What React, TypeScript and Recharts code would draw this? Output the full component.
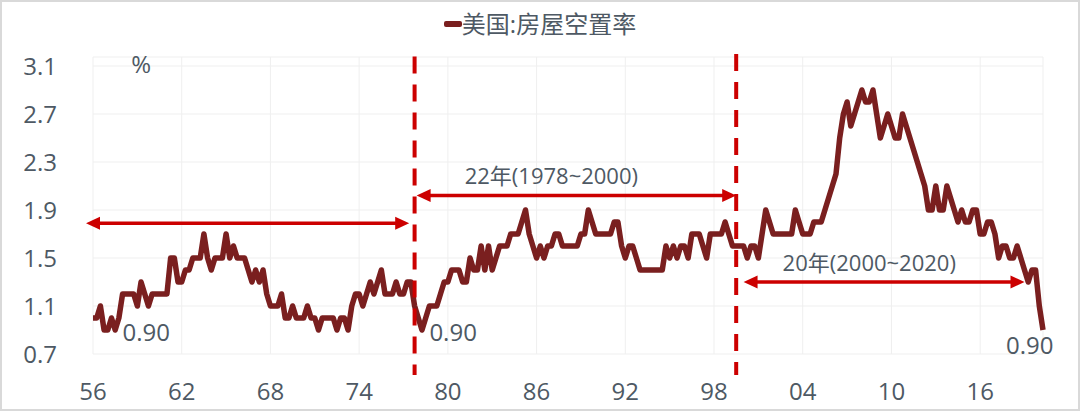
import {
  LineChart,
  Line,
  XAxis,
  YAxis,
  CartesianGrid,
  Legend,
  ReferenceLine,
  ReferenceDot,
} from 'recharts'

// US homeowner vacancy rate, quarterly, 1956Q1 - 2020Q2 (%)
const startYear = 1956
const vacancyRate = [
  1.0, 1.0, 1.1, 0.9, // 1956
  0.9, 1.0, 0.9, 1.0, // 1957
  1.2, 1.2, 1.2, 1.2, // 1958
  1.1, 1.3, 1.2, 1.1, // 1959
  1.2, 1.2, 1.2, 1.2, // 1960
  1.2, 1.5, 1.5, 1.3, // 1961
  1.3, 1.4, 1.4, 1.5, // 1962
  1.5, 1.5, 1.7, 1.5, // 1963
  1.4, 1.5, 1.5, 1.5, // 1964
  1.7, 1.5, 1.6, 1.5, // 1965
  1.5, 1.5, 1.4, 1.3, // 1966
  1.4, 1.3, 1.4, 1.2, // 1967
  1.1, 1.1, 1.1, 1.2, // 1968
  1.0, 1.0, 1.1, 1.0, // 1969
  1.0, 1.0, 1.1, 1.0, // 1970
  1.0, 0.9, 1.0, 1.0, // 1971
  1.0, 1.0, 0.9, 1.0, // 1972
  1.0, 0.9, 1.1, 1.2, // 1973
  1.2, 1.1, 1.2, 1.3, // 1974
  1.2, 1.3, 1.4, 1.2, // 1975
  1.2, 1.2, 1.3, 1.2, // 1976
  1.2, 1.3, 1.3, 1.1, // 1977
  1.0, 0.9, 1.0, 1.1, // 1978
  1.1, 1.1, 1.2, 1.3, // 1979
  1.3, 1.4, 1.4, 1.4, // 1980
  1.3, 1.3, 1.5, 1.4, // 1981
  1.4, 1.6, 1.4, 1.6, // 1982
  1.4, 1.5, 1.6, 1.6, // 1983
  1.6, 1.7, 1.7, 1.7, // 1984
  1.8, 1.9, 1.7, 1.6, // 1985
  1.5, 1.6, 1.5, 1.6, // 1986
  1.6, 1.7, 1.7, 1.6, // 1987
  1.6, 1.6, 1.6, 1.6, // 1988
  1.7, 1.7, 1.9, 1.8, // 1989
  1.7, 1.7, 1.7, 1.7, // 1990
  1.7, 1.8, 1.8, 1.6, // 1991
  1.5, 1.6, 1.6, 1.5, // 1992
  1.4, 1.4, 1.4, 1.4, // 1993
  1.4, 1.4, 1.4, 1.6, // 1994
  1.5, 1.6, 1.5, 1.6, // 1995
  1.6, 1.5, 1.7, 1.7, // 1996
  1.7, 1.6, 1.5, 1.7, // 1997
  1.7, 1.7, 1.7, 1.8, // 1998
  1.7, 1.6, 1.6, 1.6, // 1999
  1.6, 1.5, 1.6, 1.6, // 2000
  1.5, 1.7, 1.9, 1.8, // 2001
  1.7, 1.7, 1.7, 1.7, // 2002
  1.7, 1.7, 1.9, 1.8, // 2003
  1.7, 1.7, 1.7, 1.8, // 2004
  1.8, 1.8, 1.9, 2.0, // 2005
  2.1, 2.2, 2.5, 2.7, // 2006
  2.8, 2.6, 2.7, 2.8, // 2007
  2.9, 2.8, 2.8, 2.9, // 2008
  2.7, 2.5, 2.6, 2.7, // 2009
  2.6, 2.5, 2.5, 2.7, // 2010
  2.6, 2.5, 2.4, 2.3, // 2011
  2.2, 2.1, 1.9, 1.9, // 2012
  2.1, 1.9, 1.9, 2.1, // 2013
  2.0, 1.9, 1.8, 1.9, // 2014
  1.8, 1.8, 1.9, 1.9, // 2015
  1.7, 1.7, 1.8, 1.8, // 2016
  1.7, 1.5, 1.6, 1.6, // 2017
  1.5, 1.5, 1.6, 1.5, // 2018
  1.4, 1.3, 1.4, 1.4, // 2019
  1.1, 0.9,           // 2020
]

const yTicks = [0.7, 1.1, 1.5, 1.9, 2.3, 2.7, 3.1]
const seriesName = '美国:房屋空置率'
const span1Label = '22年(1978~2000)'
const span2Label = '20年(2000~2020)'

const LINE = '#7a1f1f'
const RED = '#cc0000'
const TEXT = '#4e5964'
const FONT = '"Open Sans", "Noto Sans CJK SC", sans-serif'

const quarters = vacancyRate.map((_, i) => `${startYear + Math.floor(i / 4)}Q${(i % 4) + 1}`)
const data = quarters.map((q, i) => ({ q, v: vacancyRate[i] }))

const arrowShape = (extStart = 0, extEnd = 0) => (p: any) => {
  const x1 = p.x1 - extStart
  const x2 = p.x2 + extEnd
  const y = p.y1
  const head = 14
  const half = 6.5
  return (
    <g>
      <line x1={x1 + head - 2} y1={y} x2={x2 - head + 2} y2={y} stroke={RED} strokeWidth={3.5} />
      <polygon points={`${x1},${y} ${x1 + head},${y - half} ${x1 + head},${y + half}`} fill={RED} />
      <polygon points={`${x2},${y} ${x2 - head},${y - half} ${x2 - head},${y + half}`} fill={RED} />
    </g>
  )
}

const textShape = (text: string, anchor: 'start' | 'middle', size: number) => (p: any) => (
  <text
    x={p.cx}
    y={p.cy}
    textAnchor={anchor}
    dominantBaseline="central"
    fontSize={size}
    fontFamily={FONT}
    fill={TEXT}
  >
    {text}
  </text>
)

function LegendContent() {
  return (
    <div style={{ display: 'flex', justifyContent: 'center', alignItems: 'center', height: 40, fontFamily: FONT }}>
      <span style={{ width: 18, height: 6, background: LINE, display: 'inline-block', borderRadius: 2 }} />
      <span style={{ fontSize: 24, color: TEXT, lineHeight: '40px' }}>{seriesName}</span>
    </div>
  )
}

export default function App() {
  return (
    <div style={{ position: 'absolute', left: 0, top: 0, width: 1080, height: 411, background: '#fff' }}>
      <LineChart
        width={1080}
        height={411}
        data={data}
        margin={{ top: 17, right: 37, left: 0, bottom: 27 }}
      >
        <CartesianGrid stroke="#efefef" strokeWidth={1} />
        <XAxis
          dataKey="q"
          interval={23}
          tickFormatter={(q: string) => q.slice(2, 4)}
          tick={{ fill: TEXT, fontSize: 24, fontFamily: FONT }}
          axisLine={false}
          tickLine={false}
          tickMargin={23}
          height={30}
        />
        <YAxis
          type="number"
          domain={[0.7, 3.175]}
          ticks={yTicks}
          tickFormatter={(v: number) => v.toFixed(1)}
          tick={{ fill: TEXT, fontSize: 24, fontFamily: FONT }}
          axisLine={false}
          tickLine={false}
          tickMargin={30}
          width={93}
        />
        <Legend
          verticalAlign="top"
          align="center"
          content={<LegendContent />}
          wrapperStyle={{ top: 4, left: 0, width: 1080, height: 40 }}
        />
        <Line
          type="linear"
          dataKey="v"
          name={seriesName}
          stroke={LINE}
          strokeWidth={5.5}
          strokeLinejoin="round"
          dot={false}
          activeDot={false}
          isAnimationActive={false}
        />

        <ReferenceLine
          segment={[{ x: '1977Q4', y: 3.18 }, { x: '1977Q4', y: 0.525 }]}
          stroke={RED}
          strokeWidth={4}
          strokeDasharray="17 11"
          ifOverflow="visible"
        />
        <ReferenceLine
          segment={[{ x: '1999Q3', y: 3.2 }, { x: '1999Q3', y: 0.525 }]}
          stroke={RED}
          strokeWidth={4}
          strokeDasharray="17 11"
          ifOverflow="visible"
        />

        <ReferenceLine
          segment={[{ x: '1956Q1', y: 1.79 }, { x: '1977Q2', y: 1.79 }]}
          shape={arrowShape(7, 2)}
          ifOverflow="visible"
        />
        <ReferenceLine
          segment={[{ x: '1977Q4', y: 2.02 }, { x: '1999Q3', y: 2.02 }]}
          shape={arrowShape(-2, 0)}
          ifOverflow="visible"
        />
        <ReferenceLine
          segment={[{ x: '2000Q1', y: 1.3 }, { x: '2019Q1', y: 1.3 }]}
          shape={arrowShape(0, 0)}
          ifOverflow="visible"
        />

        <ReferenceDot x="1987Q1" y={2.19} r={0} shape={textShape(span1Label, 'middle', 22)} ifOverflow="visible" />
        <ReferenceDot x="2008Q3" y={1.467} r={0} shape={textShape(span2Label, 'middle', 22)} ifOverflow="visible" />
        <ReferenceDot x="1959Q2" y={3.125} r={0} shape={textShape('%', 'middle', 24)} ifOverflow="visible" />
        <ReferenceDot x="1958Q1" y={0.89} r={0} shape={textShape('0.90', 'start', 24)} ifOverflow="visible" />
        <ReferenceDot x="1978Q4" y={0.89} r={0} shape={textShape('0.90', 'start', 24)} ifOverflow="visible" />
        <ReferenceDot x="2017Q4" y={0.783} r={0} shape={textShape('0.90', 'start', 24)} ifOverflow="visible" />
      </LineChart>
      <div
        style={{
          position: 'absolute',
          left: 0,
          top: 0,
          width: 1080,
          height: 411,
          boxSizing: 'border-box',
          border: '2px solid #d9d9d9',
          pointerEvents: 'none',
        }}
      />
    </div>
  )
}
